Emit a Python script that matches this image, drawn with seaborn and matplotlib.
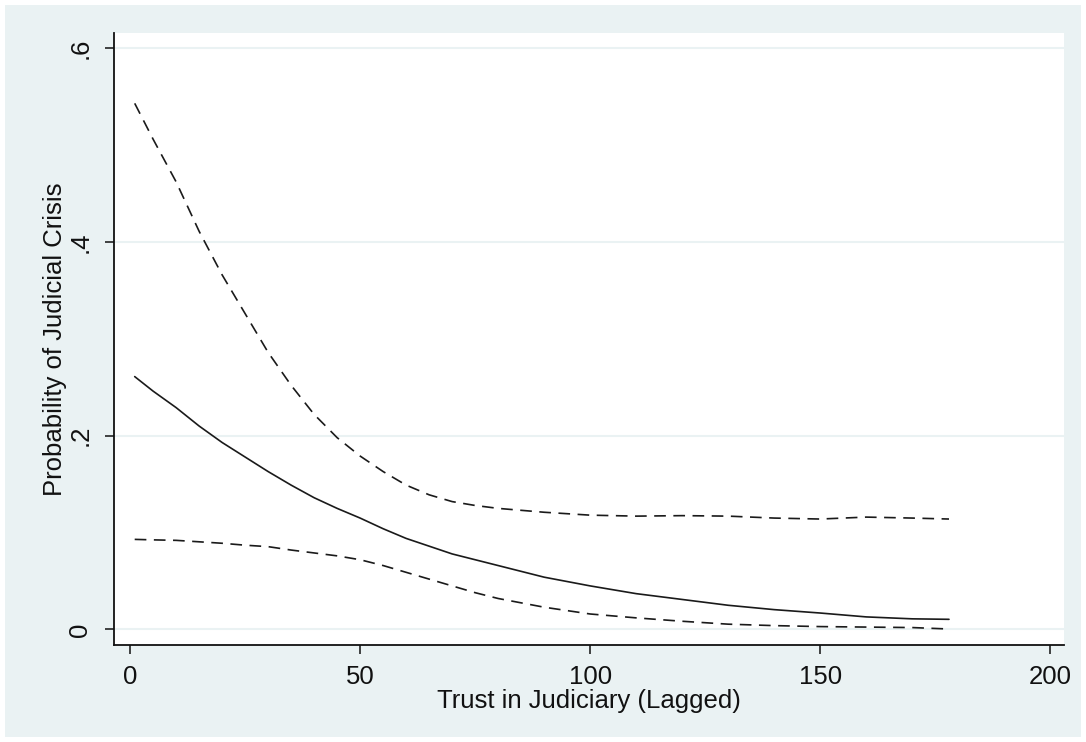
import matplotlib
matplotlib.use("Agg")
import matplotlib.pyplot as plt
import seaborn as sns
import pandas as pd
from matplotlib.patches import Rectangle

# ---- data ----
trust = [1, 5, 10, 15, 20, 25, 30, 35, 40, 45, 50, 55, 60, 65, 70, 75, 80, 90, 100,
         110, 120, 130, 140, 150, 160, 170, 178]
prob = [0.261, 0.246, 0.229, 0.210, 0.193, 0.178, 0.163, 0.149, 0.136, 0.125, 0.115,
        0.104, 0.094, 0.086, 0.078, 0.072, 0.066, 0.054, 0.045,
        0.037, 0.031, 0.025, 0.0205, 0.017, 0.013, 0.011, 0.0105]
upper = [0.543, 0.506, 0.462, 0.411, 0.366, 0.326, 0.286, 0.252, 0.222, 0.198, 0.179,
         0.163, 0.149, 0.139, 0.132, 0.128, 0.125, 0.121, 0.118,
         0.117, 0.1175, 0.117, 0.115, 0.114, 0.116, 0.115, 0.114]
lower = [0.093, 0.0925, 0.092, 0.0905, 0.089, 0.087, 0.0855, 0.082, 0.079, 0.076, 0.072,
         0.066, 0.059, 0.052, 0.045, 0.038, 0.032, 0.023, 0.016,
         0.012, 0.0085, 0.0055, 0.004, 0.003, 0.0025, 0.002, 0.0005]
xticks = [0, 50, 100, 150, 200]
yticks = [0, 0.2, 0.4, 0.6]
ytick_labels = ["0", ".2", ".4", ".6"]

df = pd.DataFrame({"trust": trust, "prob": prob, "upper": upper, "lower": lower})

sns.set_theme(style="white")
plt.rcParams["font.family"] = ["Liberation Sans", "DejaVu Sans"]

W, H = 1086, 742
fig = plt.figure(figsize=(W / 100, H / 100), dpi=100, facecolor="white")
fig.patches.append(Rectangle((5 / W, 5 / H), 1076 / W, 732 / H, transform=fig.transFigure,
                             facecolor="#EAF2F3", edgecolor="none", zorder=-10))
ax = fig.add_axes([114 / W, (H - 645) / H, (1064 - 114) / W, (645 - 33) / H])
ax.set_zorder(5)
ax.set_facecolor("white")

line_col = "#1a1a1a"
dash = (0, (7, 4.5))
sns.lineplot(data=df, x="trust", y="upper", ax=ax, color=line_col, lw=1.2, linestyle=dash)
sns.lineplot(data=df, x="trust", y="prob", ax=ax, color=line_col, lw=1.2)
sns.lineplot(data=df, x="trust", y="lower", ax=ax, color=line_col, lw=1.2, linestyle=dash)

ax.set_xlim(-3.5, 203)
ax.set_ylim(-0.016, 0.6156)
ax.set_xticks(xticks)
ax.set_xticklabels([str(t) for t in xticks])
ax.set_yticks(yticks)
ax.set_yticklabels(ytick_labels, rotation=90, va="center")

ax.yaxis.grid(True, color="#EAF2F3", lw=1.5)
ax.xaxis.grid(False)
ax.set_axisbelow(True)

for s in ["top", "right"]:
    ax.spines[s].set_visible(False)
for s in ["left", "bottom"]:
    ax.spines[s].set_color("#111111")
    ax.spines[s].set_linewidth(1.3)

ax.tick_params(axis="both", direction="out", length=6.5, width=1.1, color="#111111",
               labelsize=18.5, labelcolor="#111111", bottom=True, left=True)
ax.tick_params(axis="x", pad=8)
ax.tick_params(axis="y", pad=9)

ax.set_xlabel("Trust in Judiciary (Lagged)", fontsize=18.5, color="#111111", labelpad=0)
ax.set_ylabel("Probability of Judicial Crisis", fontsize=18.5, color="#111111", labelpad=1)

fig.savefig("out.png", dpi=100, facecolor="white")
